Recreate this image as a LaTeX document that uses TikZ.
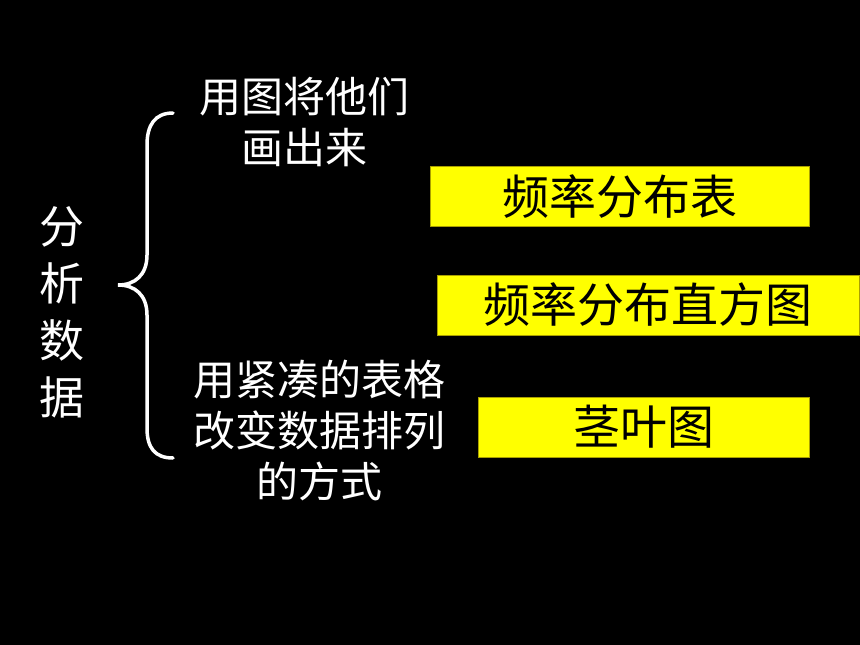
\documentclass[tikz,border=0pt]{standalone}
\usepackage{fontspec}
\setmainfont{Liberation Sans}
\newfontfamily\cjk{Noto Sans CJK SC}
\definecolor{boxyellow}{RGB}{255,255,0}
\definecolor{boxedge}{RGB}{170,160,0}
\begin{document}
\begin{tikzpicture}[x=1pt,y=-1pt,
  whitetext/.style={text=white,inner sep=0pt,align=center,font=\cjk\fontsize{42}{51}\selectfont},
  sidetext/.style={text=white,inner sep=0pt,align=center,font=\cjk\fontsize{45}{57}\selectfont},
  ybox/.style={fill=boxyellow,draw=boxedge,line width=1pt,inner sep=0pt,text=black,
    minimum height=60pt,font=\cjk\fontsize{47}{47}\selectfont}]
\fill[black] (0,0) rectangle (860,645);
\useasboundingbox (0,0) rectangle (860,645);
\node[sidetext] (side) at (62,312.5) {分\\析\\数\\据};
\node[whitetext] (top) at (304,122.5) {用图将他们\\画出来};
\node[whitetext] (bot) at (319,430) {用紧凑的表格\\改变数据排列\\的方式};
\node[ybox,minimum width=379pt] (b1) at (619.5,196.5) {频率分布表};
\node[ybox,minimum width=422pt] (b2) at (648,305) {频率分布直方图};
\node[ybox,minimum width=331pt] (b3) at (643.5,427) {茎叶图};
\draw[white,line width=3.5pt,line cap=round]
  (173,113) .. controls (155,113) and (147,125) .. (147,145)
  -- (147,255) .. controls (147,275) and (135,285) .. (118,285)
  .. controls (135,285) and (147,295) .. (147,315)
  -- (147,428) .. controls (147,448) and (155,458) .. (173,458);
\end{tikzpicture}
\end{document}
